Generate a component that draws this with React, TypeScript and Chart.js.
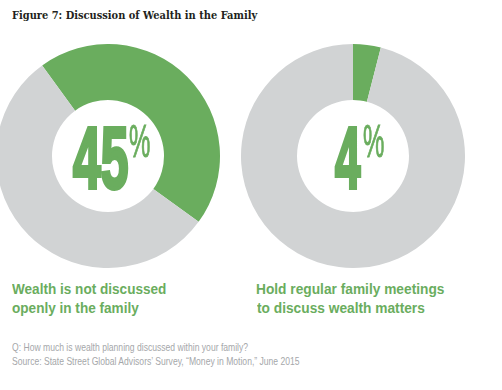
import React, { useEffect, useRef } from "react";
import { Chart, registerables } from "chart.js";

Chart.register(...registerables);

// ---------- data ----------
const titleText = "Figure 7: Discussion of Wealth in the Family";
const categories = [
  "Wealth is not discussed openly in the family",
  "Hold regular family meetings to discuss wealth matters",
];
const percentValues = [45, 4];
const labelLines = [
  ["Wealth is not discussed", "openly in the family"],
  ["Hold regular family meetings", "to discuss wealth matters"],
];
const startAngles = [-36, 0];
const footnoteLines = [
  "Q: How much is wealth planning discussed within your family?",
  "Source: State Street Global Advisors\u2019 Survey, \u201cMoney in Motion,\u201d June 2015",
];

// ---------- style ----------
const GREEN = "#6aad5e";
const GRAY = "#d1d3d4";
const TITLE_COLOR = "#231f20";
const NOTE_COLOR = "#a5a7aa";
const SANS = "'Liberation Sans Narrow', 'Liberation Sans', Arial, sans-serif";
const SERIF = "'DejaVu Serif', Georgia, serif";

let measureCtx: CanvasRenderingContext2D | null = null;
function measure(text: string, family: string, size: number, weight: number) {
  if (!measureCtx) measureCtx = document.createElement("canvas").getContext("2d");
  const ctx = measureCtx!;
  ctx.font = `${weight} ${size}px ${family}`;
  return ctx.measureText(text);
}
function scaleFor(text: string, family: string, size: number, weight: number, width: number) {
  const m = measure(text, family, size, weight);
  return width / (m.actualBoundingBoxLeft + m.actualBoundingBoxRight);
}

type FitProps = {
  text: string;
  family: string;
  size: number;
  weight: number;
  color: string;
  x: number;
  baseline: number;
  width?: number;
  scale?: number;
  stroke?: number;
};

function FitText({ text, family, size, weight, color, x, baseline, width, scale, stroke = 0 }: FitProps) {
  const m = measure(text, family, size, weight);
  const L = m.actualBoundingBoxLeft;
  const R = m.actualBoundingBoxRight;
  // stroke widens ink by `stroke` (before scaling) on the horizontal axis
  const s = scale ?? (width ? width / (L + R + stroke) : 1);
  const A = m.fontBoundingBoxAscent;
  const D = m.fontBoundingBoxDescent;
  return (
    <div
      style={{
        position: "absolute",
        left: x + (L + stroke / 2) * s,
        top: baseline - stroke / 2 - A,
        fontFamily: family,
        fontSize: size,
        fontWeight: weight,
        lineHeight: `${A + D}px`,
        color,
        whiteSpace: "nowrap",
        transform: `scaleX(${s})`,
        transformOrigin: "0 0",
        WebkitTextStroke: stroke ? `${stroke}px ${color}` : undefined,
      }}
    >
      {text}
    </div>
  );
}

function Donut({ value, rotation, left, top, size, label }: { value: number; rotation: number; left: number; top: number; size: number; label: string }) {
  const ref = useRef<HTMLCanvasElement | null>(null);
  useEffect(() => {
    if (!ref.current) return;
    const chart = new Chart(ref.current, {
      type: "doughnut",
      data: {
        labels: [label, "Other"],
        datasets: [
          {
            data: [value, 100 - value],
            backgroundColor: [GREEN, GRAY],
            borderWidth: 0,
            hoverOffset: 0,
          },
        ],
      },
      options: {
        responsive: false,
        animation: false,
        devicePixelRatio: 1,
        rotation,
        cutout: "50%",
        events: [],
        layout: { padding: 0 },
        plugins: { legend: { display: false }, tooltip: { enabled: false } },
      },
    });
    return () => chart.destroy();
  }, [value, rotation, label]);
  return (
    <canvas
      ref={ref}
      width={size}
      height={size}
      style={{ position: "absolute", left, top, width: size, height: size }}
    />
  );
}

export default function App() {
  const donutPos = [
    { left: -4, top: 44 },
    { left: 241, top: 44 },
  ];
  const digitPos = [
    { x: 72, w: 56, px: 129, pw: 21 },
    { x: 334, w: 27, px: 363, pw: 21 },
  ];
  const labelPos = [
    { x: 12, w: 154 },
    { x: 257, w: 187 },
  ];
  const labelSize = 15.5;
  const noteSize = 11;
  const noteScale = scaleFor(footnoteLines[0], SANS, noteSize, 400, 236);
  const digitStroke = 4;
  const digitSize = 88;

  return (
    <div
      style={{
        position: "fixed",
        left: 0,
        top: 0,
        width: 502,
        height: 390,
        overflow: "hidden",
        background: "#ffffff",
      }}
    >
      <FitText text={titleText} family={SERIF} size={10.5} weight={700} color={TITLE_COLOR} x={12} baseline={18.5} width={246} />

      {percentValues.map((v, i) => (
        <Donut key={"d" + i} value={v} rotation={startAngles[i]} left={donutPos[i].left} top={donutPos[i].top} size={224} label={categories[i]} />
      ))}

      {percentValues.map((v, i) => (
        <React.Fragment key={"p" + i}>
          <FitText text={String(v)} family={SANS} size={digitSize} weight={700} color={GREEN} x={digitPos[i].x} baseline={190} width={digitPos[i].w} stroke={digitStroke} />
          <FitText text="%" family={SANS} size={47} weight={400} color={GREEN} x={digitPos[i].px} baseline={157} width={digitPos[i].pw} stroke={1} />
        </React.Fragment>
      ))}

      {labelLines.map((lines, i) => {
        const s = scaleFor(lines[0], SANS, labelSize, 700, labelPos[i].w);
        return lines.map((ln, j) => (
          <FitText key={"l" + i + j} text={ln} family={SANS} size={labelSize} weight={700} color={GREEN} x={labelPos[i].x} baseline={294 + j * 19} scale={s} />
        ));
      })}

      {footnoteLines.map((ln, j) => (
        <FitText key={"n" + j} text={ln} family={SANS} size={noteSize} weight={400} color={NOTE_COLOR} x={12} baseline={351 + j * 13.5} scale={noteScale} />
      ))}
    </div>
  );
}
